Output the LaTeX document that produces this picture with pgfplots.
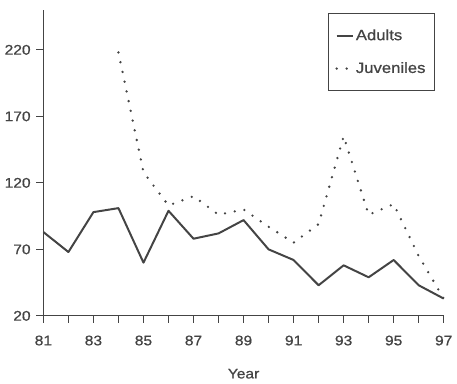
\documentclass[border=0pt]{standalone}
\usepackage{fontspec}
\setmainfont{Liberation Sans}[FakeStretch=1.12, FakeBold=0.8]
\usepackage{pgfplots}
\pgfplotsset{compat=1.18}
\definecolor{ink}{HTML}{444444}
\pgfplotstableread{
year adults
81 83
82 68
83 98
84 101
85 60
86 99
87 78
88 82
89 92
90 70
91 62
92 43
93 58
94 49
95 62
96 43
97 33
}\adults
\pgfplotstableread{
year juv
84 218
85 128
86 103
87 110
88 96
89 100
90 87
91 75
92 89
93 155
94 96
95 104
96 65
97 33
}\juv
\begin{document}
\fontsize{14}{16}\selectfont
\begin{tikzpicture}
\begin{axis}[
  scale only axis, width=403pt, height=308pt,
  xmin=81, xmax=97, ymin=20, ymax=250,
  axis lines=left,
  axis line style={-, ink, line width=1pt},
  xtick={81,83,...,97}, minor xtick={82,84,...,96},
  ytick={20,70,120,170,220},
  tick style={ink, line width=1pt},
  major tick length=7pt, minor tick length=7pt,
  tick align=outside,
  /pgf/number format/assume math mode=true,
  /pgf/number format/1000 sep={},
  ticklabel style={font=\fontsize{14}{16}\selectfont, text=ink},
  xticklabel style={yshift=-8pt},
  yticklabel style={xshift=-1pt},
  xlabel={Year},
  xlabel style={font=\fontsize{14}{16}\selectfont, text=ink, yshift=-14pt},
  legend style={at={(0.978,0.99)}, anchor=north east, draw=ink, line width=1pt,
    font=\fontsize{15}{17}\selectfont, text=ink, row sep=16pt,
    inner xsep=7pt, inner ysep=14pt},
  legend cell align=left,
  legend image code/.code={\draw[#1] (0pt,0pt) -- (16pt,0pt);},
  clip=false,
]
\addplot[ink, line width=2pt, line join=round] table[x=year, y=adults] {\adults};
\addlegendentry{Adults}
\addplot[ink, line width=2.6pt, line cap=round, dash pattern=on 0pt off 10pt] table[x=year, y=juv] {\juv};
\addlegendentry{Juveniles}
\path (rel axis cs:0,1) -- ++(0pt,10pt);
\end{axis}
\end{tikzpicture}
\end{document}
